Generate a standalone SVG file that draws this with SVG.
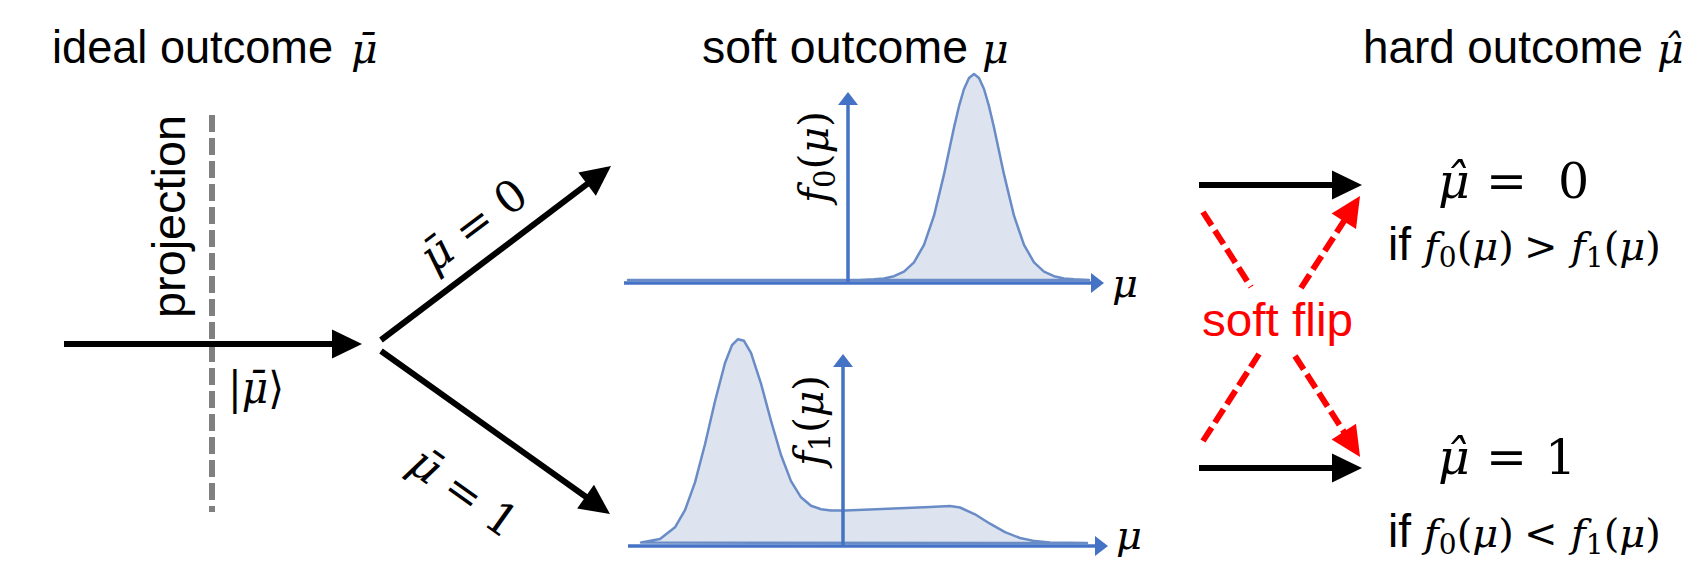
<svg xmlns="http://www.w3.org/2000/svg" width="1708" height="583" viewBox="0 0 1708 583">
<style>
.t{font-family:"Liberation Sans",Arial,sans-serif;font-size:46px;fill:#000}
.m{font-family:"DejaVu Serif","Liberation Serif",serif;fill:#000}
.it{font-style:italic}
.blk{stroke:#000;stroke-width:6;fill:none}
.red{stroke:#ff0000;stroke-width:6;fill:none;stroke-dasharray:16 6}
.axis{stroke:#4472c4;stroke-width:3.5;fill:none}
.curve{fill:#dde4ef;stroke:#6a8cc6;stroke-width:2.5;stroke-linejoin:round}
</style>
<defs>
<marker id="ah" markerUnits="userSpaceOnUse" markerWidth="30" markerHeight="30" refX="2" refY="0" orient="auto" overflow="visible"><path d="M0,-14.5 L30,0 L0,14.5 z" fill="#000"/></marker>
<marker id="ahr" markerUnits="userSpaceOnUse" markerWidth="30" markerHeight="30" refX="2" refY="0" orient="auto" overflow="visible"><path d="M0,-14.5 L30,0 L0,14.5 z" fill="#ff0000"/></marker>
<marker id="ahb" markerUnits="userSpaceOnUse" markerWidth="14" markerHeight="20" refX="1" refY="0" orient="auto" overflow="visible"><path d="M0,-10 L13,0 L0,10 z" fill="#4472c4"/></marker>
</defs>
<rect width="1708" height="583" fill="#fff"/>

<g id="title-ideal">
<text class="t" x="52" y="63" textLength="281" lengthAdjust="spacingAndGlyphs">ideal outcome</text>
<text class="m it" x="351" y="63" font-size="41">&#x3BC;&#x304;</text>
</g>
<g id="title-soft">
<text class="t" x="702" y="63" textLength="266" lengthAdjust="spacingAndGlyphs">soft outcome</text>
<text class="m it" x="982" y="63" font-size="41">&#x3BC;</text>
</g>
<g id="title-hard">
<text class="t" x="1363" y="63" textLength="280" lengthAdjust="spacingAndGlyphs">hard outcome</text>
<text class="m it" x="1657" y="63" font-size="41">&#x3BC;&#x302;</text>
</g>

<g id="projection">
<line x1="212" y1="115" x2="212" y2="512" stroke="#808080" stroke-width="6" stroke-dasharray="17 6"/>
<text class="t" font-size="47" transform="translate(185,318) rotate(-90)" textLength="203" lengthAdjust="spacingAndGlyphs">projection</text>
</g>

<g id="ket">
<text class="m" x="228" y="403" font-size="44" textLength="56" lengthAdjust="spacingAndGlyphs">|<tspan class="it">&#x3BC;&#x304;</tspan>&#x27E9;</text>
</g>

<g id="label-mu0" transform="translate(474,226) rotate(-37)">
<text class="m" x="0" y="14" text-anchor="middle" font-size="44"><tspan class="it">&#x3BC;&#x304;</tspan> = 0</text>
</g>
<g id="label-mu1" transform="translate(463,493) rotate(35.5)">
<text class="m" x="0" y="14" text-anchor="middle" font-size="44"><tspan class="it">&#x3BC;&#x304;</tspan> = 1</text>
</g>

<g id="plot0">
<polygon class="curve" points="628,280 859,280 874,279.3 884,278.4 894,276.2 904,271.6 914,262.3 924,244.9 934,215.7 944,174.4 954,127.5 959,106.2 964,89 969,77.9 974,74 979,77.9 984,89 989,106.2 994,127.5 1004,174.4 1014,215.7 1024,244.9 1034,262.3 1044,271.6 1054,276.2 1064,278.4 1074,279.3 1089,280"/>
<line class="axis" x1="624" y1="283" x2="1092" y2="283" marker-end="url(#ahb)"/>
<line class="axis" x1="848" y1="283" x2="848" y2="104" marker-end="url(#ahb)"/>
<text class="m" transform="translate(828,203) rotate(-90)" font-size="41" textLength="92"><tspan class="it">f</tspan><tspan dy="7" font-size="29">0</tspan><tspan dy="-7">(</tspan><tspan class="it">&#x3BC;</tspan>)</text>
<text class="m it" x="1112" y="297" font-size="40">&#x3BC;</text>
</g>

<g id="plot1">
<polygon class="curve" points="641,542.5 660,538.9 675,527.3 685,510.1 695,482.4 705,444.3 715,401.2 725,363 732,345.1 738,339.2 744,340.8 751,352.8 761,383.6 771,420.8 781,455 791,481.1 801,497.3 811,505.7 821,509.2 831,510.4 845,510.6 870,509.5 900,508.2 930,506.9 950,506 960,507.5 975,514.3 990,523.7 1005,532.2 1020,538 1035,541.1 1050,542.4 1087,543"/>
<line class="axis" x1="628" y1="546" x2="1096" y2="546" marker-end="url(#ahb)"/>
<line class="axis" x1="843" y1="546" x2="843" y2="366" marker-end="url(#ahb)"/>
<text class="m" transform="translate(823,466) rotate(-90)" font-size="41" textLength="91"><tspan class="it">f</tspan><tspan dy="7" font-size="29">1</tspan><tspan dy="-7">(</tspan><tspan class="it">&#x3BC;</tspan>)</text>
<text class="m it" x="1116" y="549" font-size="40">&#x3BC;</text>
</g>

<g id="hard0">
<text class="m" y="198" font-size="49"><tspan class="it" x="1438">&#x3BC;&#x302;</tspan><tspan x="1486">=</tspan><tspan x="1558">0</tspan></text>
<text class="m" y="260" font-size="40"><tspan class="t" font-size="40" x="1388">if</tspan><tspan class="it" x="1424">f</tspan><tspan dy="7" font-size="28">0</tspan><tspan dy="-7">(</tspan><tspan class="it">&#x3BC;</tspan>)<tspan x="1524">&gt;</tspan><tspan class="it" x="1571">f</tspan><tspan dy="7" font-size="28">1</tspan><tspan dy="-7">(</tspan><tspan class="it">&#x3BC;</tspan>)</text>
</g>
<g id="hard1">
<text class="m" y="474" font-size="49"><tspan class="it" x="1438">&#x3BC;&#x302;</tspan><tspan x="1486">=</tspan><tspan x="1545">1</tspan></text>
<text class="m" y="547" font-size="40"><tspan class="t" font-size="40" x="1388">if</tspan><tspan class="it" x="1424">f</tspan><tspan dy="7" font-size="28">0</tspan><tspan dy="-7">(</tspan><tspan class="it">&#x3BC;</tspan>)<tspan x="1524">&lt;</tspan><tspan class="it" x="1571">f</tspan><tspan dy="7" font-size="28">1</tspan><tspan dy="-7">(</tspan><tspan class="it">&#x3BC;</tspan>)</text>
</g>

<g id="softflip">
<text class="t" x="1202" y="336" style="fill:#ff0000" textLength="151" lengthAdjust="spacingAndGlyphs">soft flip</text>
</g>

<g id="connectors">
<line class="blk" x1="64" y1="344" x2="334" y2="344" marker-end="url(#ah)"/>
<line class="blk" x1="381" y1="340" x2="588.7" y2="182.9" marker-end="url(#ah)"/>
<line class="blk" x1="381" y1="351" x2="587.2" y2="497.8" marker-end="url(#ah)"/>
<line class="blk" x1="1199" y1="185" x2="1334" y2="185" marker-end="url(#ah)"/>
<line class="blk" x1="1199" y1="468" x2="1334" y2="468" marker-end="url(#ah)"/>
<line class="red" x1="1203" y1="212" x2="1251" y2="287"/>
<line class="red" x1="1295" y1="356" x2="1344.9" y2="433.4" marker-end="url(#ahr)"/>
<line class="red" x1="1203" y1="441" x2="1259" y2="354"/>
<line class="red" x1="1301" y1="288" x2="1344.9" y2="219.6" marker-end="url(#ahr)"/>
</g>
</svg>
